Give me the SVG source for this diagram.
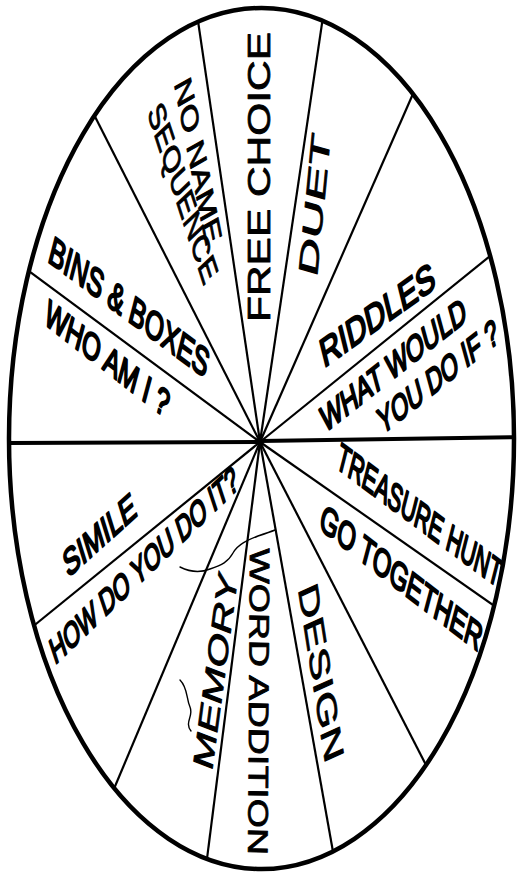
<svg xmlns="http://www.w3.org/2000/svg" width="517" height="873" viewBox="0 0 517 873">
<defs>
<clipPath id="rim"><ellipse cx="261.5" cy="438.5" rx="252.5" ry="430.5"/></clipPath>
</defs>
<style>
.spoke{stroke:#000;stroke-width:2.2;fill:none}
.axis{stroke:#000;stroke-width:4;fill:none}
.rim{fill:none;stroke:#000;stroke-width:4.5}
.lv,.ld{font-family:"Liberation Sans",Arial,sans-serif;fill:#000;stroke:#000;stroke-linejoin:round}
.lv{stroke-width:1.3}
.ld{stroke-width:2.3}
.mark{fill:none;stroke:#000;stroke-width:1.4;stroke-linecap:round}
</style>
<rect width="517" height="873" fill="#fff"/>
<g id="connectors" clip-path="url(#rim)">
<line class="spoke" x1="260" y1="442" x2="193" y2="-13"/>
<line class="spoke" x1="260" y1="442" x2="328" y2="-17"/>
<line class="spoke" x1="260" y1="442" x2="427" y2="62"/>
<line class="spoke" x1="260" y1="442" x2="521" y2="231"/>
<line class="axis" x1="260" y1="441" x2="530" y2="437"/>
<line class="spoke" x1="260" y1="442" x2="516" y2="621"/>
<line class="spoke" x1="260" y1="442" x2="444" y2="800"/>
<line class="spoke" x1="260" y1="442" x2="340" y2="891"/>
<line class="spoke" x1="260" y1="442" x2="202" y2="898"/>
<line class="spoke" x1="260" y1="442" x2="100" y2="822"/>
<line class="spoke" x1="260" y1="442" x2="15" y2="641"/>
<line class="axis" x1="260" y1="442" x2="-10" y2="443"/>
<line class="spoke" x1="260" y1="442" x2="7" y2="255"/>
<line class="spoke" x1="260" y1="442" x2="82" y2="91"/>
<circle cx="260" cy="442" r="3.5" fill="#000"/>
</g>
<g id="marks">
<path class="mark" d="M180,567 C190,572 200,573 210,569 C222,565 228,562 233,553 C238,544 248,540 258,536 C264,534 270,532 275,530"/>
<path class="mark" d="M180,680 C188,688 186,698 190,707 C194,716 184,722 191,731"/>
</g>
<g id="labels" transform="matrix(0.5865,0,0,1,108.13,0)">
<g id="free-choice"><text class="lv" font-size="52" textLength="355" lengthAdjust="spacingAndGlyphs" transform="translate(276,322) rotate(-90) scale(0.817,1)">FREE CHOICE</text></g>
<g id="duet"><text class="lv" font-size="46" textLength="143" lengthAdjust="spacingAndGlyphs" transform="translate(356.1,278) rotate(-80.7)">DUET</text></g>
<g id="no-name-sequence">
<text class="lv" font-size="42" textLength="196" lengthAdjust="spacingAndGlyphs" transform="translate(112.3,84) rotate(71.5) scale(0.878,1)">NO NAME</text>
<text class="lv" font-size="42" textLength="236" lengthAdjust="spacingAndGlyphs" transform="translate(66.3,113) rotate(60.8) scale(0.844,1)">SEQUENCE</text>
</g>
<g id="bins-boxes"><text class="ld" font-size="40" textLength="294" lengthAdjust="spacingAndGlyphs" transform="translate(-104.2,261) rotate(23.5)">BINS &amp; BOXES</text></g>
<g id="who-am-i"><text class="ld" font-size="38" textLength="229" lengthAdjust="spacingAndGlyphs" transform="translate(-111,323) rotate(24.5)">WHO AM I ?</text></g>
<g id="riddles"><text class="ld" font-size="40" textLength="209" lengthAdjust="spacingAndGlyphs" transform="translate(368,368) rotate(-22.8)">RIDDLES</text></g>
<g id="what-would-you-do-if">
<text class="ld" font-size="37" textLength="269" lengthAdjust="spacingAndGlyphs" transform="translate(369.8,433) rotate(-24.9)">WHAT WOULD</text>
<text class="ld" font-size="37" textLength="222" lengthAdjust="spacingAndGlyphs" transform="translate(466.9,435) rotate(-25)">YOU DO IF ?</text>
</g>
<g id="treasure-hunt"><text class="ld" font-size="39" textLength="331" lengthAdjust="spacingAndGlyphs" transform="translate(386.8,467) rotate(23.5) scale(0.915,1)">TREASURE HUNT</text></g>
<g id="go-together"><text class="ld" font-size="39" textLength="300" lengthAdjust="spacingAndGlyphs" transform="translate(357.8,528) rotate(24.4)">GO TOGETHER</text></g>
<g id="design"><text class="lv" font-size="48" textLength="182" lengthAdjust="spacingAndGlyphs" transform="translate(323.7,589) rotate(75.1)">DESIGN</text></g>
<g id="word-addition"><text class="lv" font-size="48" textLength="395" lengthAdjust="spacingAndGlyphs" transform="translate(241.9,548) rotate(90.6) scale(0.777,1)">WORD ADDITION</text></g>
<g id="memory"><text class="lv" font-size="48" textLength="216" lengthAdjust="spacingAndGlyphs" transform="translate(177.1,772) rotate(-77.2) scale(0.926,1)">MEMORY</text></g>
<g id="how-do-you-do-it"><text class="ld" font-size="37" textLength="362" lengthAdjust="spacingAndGlyphs" transform="translate(-90.6,665) rotate(-29.4)">HOW DO YOU DO IT?</text></g>
<g id="simile"><text class="ld" font-size="38" textLength="135" lengthAdjust="spacingAndGlyphs" transform="translate(-68.4,578) rotate(-27.8)">SIMILE</text></g>
</g>
<g id="wheel"><ellipse class="rim" cx="261.5" cy="438.5" rx="252.5" ry="430.5"/></g>
</svg>
